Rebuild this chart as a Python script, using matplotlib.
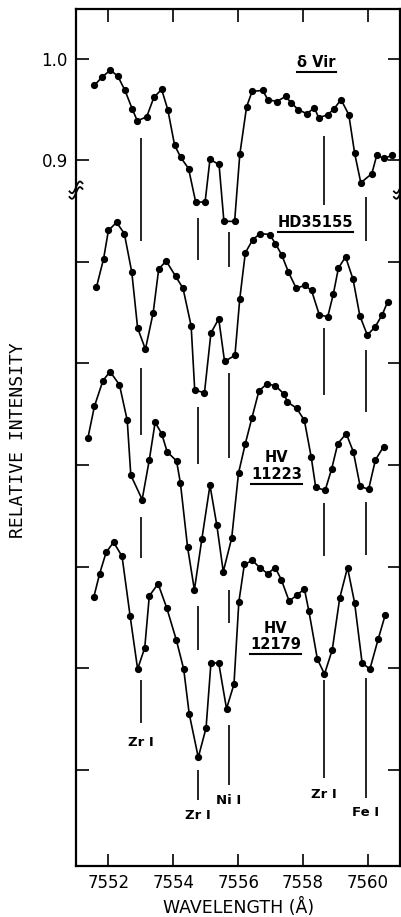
import numpy as np
import matplotlib
matplotlib.use('Agg')
import matplotlib.pyplot as plt

# wavelengths (A) and relative intensities
dvir_wl = [7551.57, 7551.80, 7552.06, 7552.29, 7552.51, 7552.73, 7552.89, 7553.18, 7553.40, 7553.64,
           7553.83, 7554.04, 7554.23, 7554.47, 7554.69, 7554.98, 7555.13, 7555.41, 7555.56, 7555.89,
           7556.05, 7556.26, 7556.43, 7556.76, 7556.91, 7557.19, 7557.46, 7557.63, 7557.85, 7558.12,
           7558.35, 7558.48, 7558.76, 7558.96, 7559.17, 7559.41, 7559.59, 7559.78, 7560.12, 7560.27,
           7560.51, 7560.73]
dvir_int = [0.974, 0.982, 0.989, 0.983, 0.969, 0.951, 0.939, 0.943, 0.962, 0.970,
            0.950, 0.915, 0.903, 0.892, 0.859, 0.859, 0.901, 0.896, 0.840, 0.840,
            0.906, 0.953, 0.968, 0.969, 0.960, 0.958, 0.963, 0.957, 0.950, 0.946,
            0.952, 0.942, 0.945, 0.951, 0.960, 0.945, 0.907, 0.878, 0.887, 0.905,
            0.902, 0.905]

hd_wl = [7551.63, 7551.85, 7552.00, 7552.25, 7552.49, 7552.72, 7552.90, 7553.14, 7553.38, 7553.55,
         7553.78, 7554.07, 7554.30, 7554.55, 7554.66, 7554.96, 7555.16, 7555.40, 7555.58, 7555.90,
         7556.05, 7556.22, 7556.45, 7556.68, 7556.97, 7557.15, 7557.34, 7557.55, 7557.79, 7558.05,
         7558.26, 7558.50, 7558.76, 7558.93, 7559.09, 7559.31, 7559.54, 7559.75, 7559.98, 7560.22,
         7560.44, 7560.61]
hd_int = [0.775, 0.803, 0.831, 0.839, 0.828, 0.790, 0.735, 0.714, 0.750, 0.793,
          0.801, 0.786, 0.774, 0.737, 0.674, 0.671, 0.730, 0.744, 0.702, 0.708,
          0.764, 0.809, 0.822, 0.828, 0.827, 0.818, 0.807, 0.790, 0.774, 0.777,
          0.772, 0.748, 0.746, 0.768, 0.794, 0.805, 0.783, 0.747, 0.728, 0.736,
          0.748, 0.761]

hv11223_wl = [7551.37, 7551.57, 7551.83, 7552.05, 7552.34, 7552.58, 7552.69, 7553.04, 7553.26, 7553.44,
              7553.64, 7553.81, 7554.10, 7554.22, 7554.44, 7554.65, 7554.88, 7555.13, 7555.34, 7555.54,
              7555.80, 7556.01, 7556.22, 7556.42, 7556.64, 7556.89, 7557.15, 7557.41, 7557.52, 7557.80,
              7558.04, 7558.25, 7558.39, 7558.68, 7558.88, 7559.07, 7559.33, 7559.55, 7559.76, 7560.02,
              7560.23, 7560.48]
hv11223_int = [0.627, 0.658, 0.683, 0.692, 0.679, 0.644, 0.590, 0.566, 0.605, 0.642,
               0.631, 0.613, 0.604, 0.582, 0.519, 0.477, 0.527, 0.580, 0.541, 0.495,
               0.528, 0.592, 0.621, 0.646, 0.673, 0.680, 0.678, 0.670, 0.662, 0.656,
               0.644, 0.608, 0.578, 0.575, 0.596, 0.621, 0.631, 0.613, 0.579, 0.576,
               0.605, 0.618]

hv12179_wl = [7551.55, 7551.73, 7551.93, 7552.16, 7552.42, 7552.67, 7552.90, 7553.12, 7553.26, 7553.53,
              7553.80, 7554.09, 7554.32, 7554.49, 7554.77, 7555.01, 7555.16, 7555.40, 7555.64, 7555.87,
              7556.02, 7556.19, 7556.44, 7556.66, 7556.91, 7557.14, 7557.33, 7557.57, 7557.82, 7558.04,
              7558.18, 7558.44, 7558.66, 7558.90, 7559.13, 7559.37, 7559.59, 7559.82, 7560.06, 7560.32,
              7560.53]
hv12179_int = [0.470, 0.493, 0.514, 0.524, 0.510, 0.451, 0.399, 0.420, 0.471, 0.483,
               0.459, 0.428, 0.399, 0.355, 0.312, 0.341, 0.405, 0.405, 0.360, 0.384,
               0.465, 0.502, 0.506, 0.499, 0.493, 0.499, 0.487, 0.466, 0.472, 0.478,
               0.456, 0.409, 0.394, 0.418, 0.469, 0.499, 0.464, 0.405, 0.399, 0.429,
               0.452]

# line identifications
line_wl = [7553.00, 7554.77, 7555.72, 7558.63, 7559.93]
line_names = ['Zr I', 'Zr I', 'Ni I', 'Zr I', 'Fe I']
line_label_y = [0.327, 0.255, 0.270, 0.275, 0.258]

# marker segments under each spectrum (top, bottom)
dvir_mark_top = [0.922, 0.843, 0.830, 0.924, 0.864]
dvir_mark_bot = [0.821, 0.802, 0.795, 0.856, 0.821]
hd_mark_top = [0.696, 0.657, 0.691, 0.735, 0.713]
hd_mark_bot = [0.630, 0.601, 0.607, 0.669, 0.652]
hv11223_mark_top = [0.549, 0.461, 0.477, 0.563, 0.564]
hv11223_mark_bot = [0.508, 0.418, 0.444, 0.510, 0.511]
hv12179_mark_top = [0.388, 0.300, 0.344, 0.388, 0.390]
hv12179_mark_bot = [0.346, 0.270, 0.285, 0.292, 0.272]

star_names = ['δ Vir', 'HD35155', 'HV\n11223', 'HV\n12179']
star_label_x = [7558.41, 7558.38, 7557.18, 7557.15]
star_label_y = [0.996, 0.839, 0.599, 0.431]

yticks = [1.0, 0.9, 0.8, 0.7, 0.6, 0.5, 0.4, 0.3]
ytick_labels = ['1.0', '0.9', '', '', '', '', '', '']

fig = plt.figure(figsize=(4.02, 9.17), dpi=100)
ax = fig.add_axes([0.189, 0.0556, 0.807, 0.9344])

spectra = [(dvir_wl, dvir_int), (hd_wl, hd_int), (hv11223_wl, hv11223_int), (hv12179_wl, hv12179_int)]
for wl, inten in spectra:
    ax.plot(wl, inten, '-o', color='black', lw=1.2, ms=4.2, mfc='black', mec='black')

marks = [(dvir_mark_top, dvir_mark_bot), (hd_mark_top, hd_mark_bot),
         (hv11223_mark_top, hv11223_mark_bot), (hv12179_mark_top, hv12179_mark_bot)]
for top, bot in marks:
    ax.vlines(line_wl, bot, top, color='black', lw=1.2)

for wl, name, ly in zip(line_wl, line_names, line_label_y):
    ax.text(wl, ly, name, ha='center', va='center', fontsize=9.5, fontweight='bold')

ax.set_xlim(7551, 7561)
ax.set_ylim(0.205, 1.049)
ax.set_xticks([7552, 7554, 7556, 7558, 7560])
ax.set_yticks(yticks)
ax.set_yticklabels(ytick_labels)
ax.tick_params(direction='in', length=9, width=1.2, top=True, right=True,
               labelsize=12, pad=6)
for s in ax.spines.values():
    s.set_linewidth(1.6)

ax.set_xlabel('WAVELENGTH (Å)', fontsize=12.5, labelpad=4)
fig.text(0.045, 0.52, 'RELATIVE INTENSITY', rotation=90, ha='center', va='center',
         fontsize=13, family='DejaVu Sans Mono')

# axis break marks on both spines
t = np.linspace(-1, 1, 40)
ytrans = ax.get_yaxis_transform()
for xa in [0.0, 1.0]:
    for off in [0.0, 0.0055]:
        ax.plot(xa + t * 0.02, 0.868 + off + 0.0035 * np.sin(np.pi * t) + 0.004 * t,
                color='black', lw=1.3, transform=ytrans, clip_on=False)

# star labels with underlines
texts = []
for name, sx, sy in zip(star_names, star_label_x, star_label_y):
    texts.append(ax.text(sx, sy, name, ha='center', va='center', fontsize=10.5,
                         fontweight='bold', linespacing=1.1))
fig.canvas.draw()
r = fig.canvas.get_renderer()
inv = ax.transData.inverted()
for tx in texts:
    bb = tx.get_window_extent(r)
    (x0, y0), (x1, y1) = inv.transform([[bb.x0, bb.y0 - 2], [bb.x1, bb.y1]])
    ax.plot([x0, x1], [y0, y0], color='black', lw=1.5)

fig.savefig('out.png', dpi=100)
